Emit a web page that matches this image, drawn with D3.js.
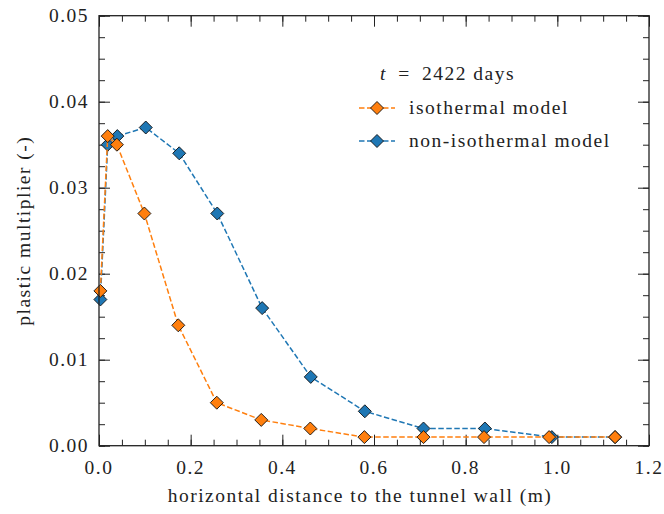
<!DOCTYPE html>
<html>
<head>
<meta charset="utf-8">
<script src="https://cdn.jsdelivr.net/npm/d3@7"></script>
<style>
  body { margin: 0; background: #fff; }
  svg text { font-family: "Liberation Serif", serif; fill: #222; font-size: 19.5px; letter-spacing: 1.5px; }
</style>
</head>
<body>
<script>
// data
var isoX = [0.003, 0.019, 0.039, 0.099, 0.173, 0.257, 0.354, 0.461, 0.579, 0.708, 0.840, 0.982, 1.126];
var isoY = [0.018, 0.036, 0.035, 0.027, 0.014, 0.005, 0.003, 0.002, 0.001, 0.001, 0.001, 0.001, 0.001];
var nonX = [0.003, 0.019, 0.040, 0.102, 0.175, 0.258, 0.356, 0.462, 0.580, 0.708, 0.842, 0.988, 1.126];
var nonY = [0.017, 0.035, 0.036, 0.037, 0.034, 0.027, 0.016, 0.008, 0.004, 0.002, 0.002, 0.001, 0.001];
var xTicks = [0, 0.2, 0.4, 0.6, 0.8, 1.0, 1.2];
var yTicks = [0, 0.01, 0.02, 0.03, 0.04, 0.05];
var seriesNames = ["isothermal model", "non-isothermal model"];
var seriesColors = ["#ff7f0e", "#1f77b4"];

var w = 664, h = 514;
var pLeft = 99, pRight = 649, pTop = 15.7, pBottom = 445.7;

var svg = d3.select("body").append("svg")
    .attr("width", w)
    .attr("height", h);

var x = d3.scaleLinear().domain([0, 1.2]).range([pLeft, pRight]);
var y = d3.scaleLinear().domain([0, 0.05]).range([pBottom, pTop]);

// minor + major ticks, inward on all four sides
var xMinor = d3.range(0, 1.2001, 0.05);
var yMinor = d3.range(0, 0.05001, 0.0025);

function tickAxis(axisFn, scale, vals, len, tr) {
    var g = svg.append("g").attr("transform", tr);
    g.call(axisFn(scale).tickValues(vals).tickSize(len).tickFormat(""));
    g.select(".domain").remove();
    g.selectAll("line").attr("stroke", "#222").attr("stroke-width", 1);
    return g;
}
tickAxis(d3.axisTop, x, xMinor, 6, "translate(0," + pBottom + ")");
tickAxis(d3.axisTop, x, xTicks, 11, "translate(0," + pBottom + ")");
tickAxis(d3.axisBottom, x, xMinor, 6, "translate(0," + pTop + ")");
tickAxis(d3.axisBottom, x, xTicks, 11, "translate(0," + pTop + ")");
tickAxis(d3.axisRight, y, yMinor, 6, "translate(" + pLeft + ",0)");
tickAxis(d3.axisRight, y, yTicks, 11, "translate(" + pLeft + ",0)");
tickAxis(d3.axisLeft, y, yMinor, 6, "translate(" + pRight + ",0)");
tickAxis(d3.axisLeft, y, yTicks, 11, "translate(" + pRight + ",0)");

// tick labels
svg.selectAll(".xlab").data(xTicks).enter().append("text")
    .attr("class", "xlab")
    .attr("x", function(d){ return x(d); })
    .attr("y", 474)
    .attr("text-anchor", "middle")
    .text(function(d){ return d3.format(".1f")(d); });

svg.selectAll(".ylab").data(yTicks).enter().append("text")
    .attr("class", "ylab")
    .attr("x", 89)
    .attr("y", function(d){ return y(d) + 6.5; })
    .attr("text-anchor", "end")
    .text(function(d){ return d3.format(".2f")(d); });

// axis titles
svg.append("text")
    .attr("x", 360)
    .attr("y", 502)
    .attr("text-anchor", "middle")
    .text("horizontal distance to the tunnel wall (m)");

svg.append("text")
    .attr("transform", "translate(30," + ((pTop + pBottom) / 2) + ") rotate(-90)")
    .attr("text-anchor", "middle")
    .text("plastic multiplier (-)");

// series
var series = [
    { name: seriesNames[0], color: seriesColors[0], pts: d3.zip(isoX, isoY) },
    { name: seriesNames[1], color: seriesColors[1], pts: d3.zip(nonX, nonY) }
];

var line = d3.line()
    .x(function(d){ return x(d[0]); })
    .y(function(d){ return y(d[1]); });

var diamond = "M0,-6.5L6.5,0L0,6.5L-6.5,0Z";

// blue below, orange on top
[series[1], series[0]].forEach(function(s){
    svg.append("path")
        .datum(s.pts)
        .attr("d", line)
        .attr("fill", "none")
        .attr("stroke", s.color)
        .attr("stroke-width", 1.5)
        .attr("stroke-dasharray", "5.5,2.5");
    svg.selectAll(null).data(s.pts).enter().append("path")
        .attr("d", diamond)
        .attr("transform", function(d){ return "translate(" + x(d[0]) + "," + y(d[1]) + ")"; })
        .attr("fill", s.color)
        .attr("stroke", "#111")
        .attr("stroke-width", 0.9);
});

// frame
svg.append("rect")
    .attr("x", pLeft).attr("y", pTop)
    .attr("width", pRight - pLeft).attr("height", pBottom - pTop)
    .attr("fill", "none")
    .attr("stroke", "#222")
    .attr("stroke-width", 1.3);

// legend
var lg = svg.append("g");
var title = lg.append("text")
    .attr("x", 380).attr("y", 80);
title.append("tspan").style("font-style", "italic").text("t");
title.append("tspan").text("\u2002=\u20022422 days");

series.forEach(function(s, i){
    var ly = 108 + i * 33;
    lg.append("line")
        .attr("x1", 359).attr("x2", 395)
        .attr("y1", ly).attr("y2", ly)
        .attr("stroke", s.color)
        .attr("stroke-width", 1.5)
        .attr("stroke-dasharray", "5.5,2.5");
    lg.append("path")
        .attr("d", diamond)
        .attr("transform", "translate(377," + ly + ")")
        .attr("fill", s.color)
        .attr("stroke", "#111")
        .attr("stroke-width", 0.9);
    lg.append("text")
        .attr("x", 409).attr("y", ly + 6)
        .text(s.name);
});
</script>
</body>
</html>
